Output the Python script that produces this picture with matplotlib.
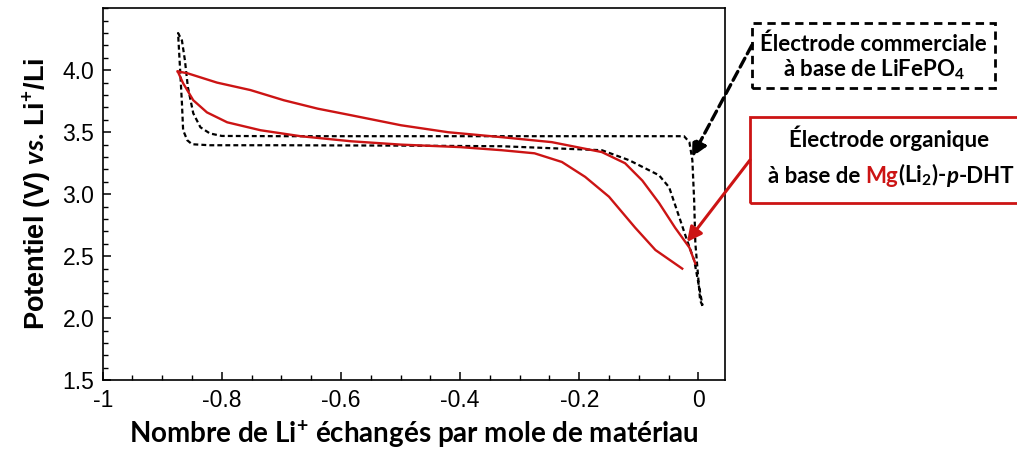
import matplotlib
matplotlib.use("Agg")
import matplotlib.pyplot as plt
from matplotlib.patches import Rectangle, FancyArrowPatch
from matplotlib.offsetbox import TextArea, HPacker, AnchoredOffsetbox
from matplotlib.ticker import MultipleLocator

plt.rcParams['mathtext.fontset'] = 'custom'
plt.rcParams['mathtext.rm'] = 'Lato:bold'
plt.rcParams['mathtext.it'] = 'Lato:bold:italic'
plt.rcParams['mathtext.bf'] = 'Lato:bold'

# LiFePO4 commercial electrode (black dashed)
lfp_x = [0.007, 0.003, -0.005, -0.007, -0.010, -0.015, -0.024, -0.10, -0.30, -0.50,
         -0.70, -0.80, -0.820, -0.836, -0.848, -0.857, -0.862, -0.867, -0.8735,
         -0.870, -0.867, -0.865, -0.858, -0.850, -0.820, -0.70, -0.50, -0.33,
         -0.162, -0.116, -0.066, -0.049, -0.032, -0.019, -0.007, 0.007]
lfp_y = [2.10, 2.145, 2.605, 2.95, 3.274, 3.42, 3.468, 3.468, 3.468, 3.468,
         3.468, 3.47, 3.49, 3.54, 3.653, 3.863, 4.08, 4.24, 4.30,
         4.00, 3.734, 3.516, 3.435, 3.403, 3.395, 3.395, 3.392, 3.387,
         3.355, 3.274, 3.153, 3.056, 2.815, 2.629, 2.468, 2.105]

# Mg(Li2)-p-DHT organic electrode (red)
mg_up_x = [-0.874, -0.858, -0.808, -0.752, -0.696, -0.639, -0.583, -0.499, -0.42,
           -0.33, -0.246, -0.162, -0.123, -0.094, -0.066, -0.039, -0.015, -0.005]
mg_up_y = [3.99, 3.976, 3.90, 3.84, 3.758, 3.69, 3.637, 3.556, 3.50,
           3.46, 3.42, 3.34, 3.25, 3.11, 2.93, 2.73, 2.57, 2.44]
mg_lo_x = [-0.874, -0.865, -0.848, -0.825, -0.791, -0.735, -0.668, -0.583, -0.499,
           -0.40, -0.33, -0.275, -0.229, -0.19, -0.15, -0.106, -0.072, -0.027]
mg_lo_y = [3.99, 3.895, 3.758, 3.66, 3.58, 3.516, 3.468, 3.427, 3.40,
           3.38, 3.355, 3.33, 3.26, 3.14, 2.98, 2.73, 2.55, 2.40]

x_ticks = [-1, -0.8, -0.6, -0.4, -0.2, 0]
x_ticklabels = ['-1', '-0.8', '-0.6', '-0.4', '-0.2', '0']
y_ticks = [1.5, 2.0, 2.5, 3.0, 3.5, 4.0]

RED = '#cc1414'

fig = plt.figure(figsize=(10.17, 4.57), dpi=100)
ax = fig.add_axes([0.101, 0.168, 0.612, 0.814])

ax.plot(lfp_x, lfp_y, color='black', lw=1.6, ls=(0, (2.2, 1.4)))
ax.plot(mg_up_x, mg_up_y, color=RED, lw=1.7)
ax.plot(mg_lo_x, mg_lo_y, color=RED, lw=1.7)

ax.set_xlim(-1, 0.045)
ax.set_ylim(1.5, 4.5)
ax.set_xticks(x_ticks)
ax.set_xticklabels(x_ticklabels)
ax.set_yticks(y_ticks)
ax.set_yticklabels([f'{v:.1f}' for v in y_ticks])
ax.xaxis.set_minor_locator(MultipleLocator(0.05))
ax.yaxis.set_minor_locator(MultipleLocator(0.1))
ax.tick_params(which='major', direction='in', length=6, width=1.1,
               labelsize=16.5, pad=6, top=False, right=False)
ax.tick_params(which='minor', direction='in', length=3.5, width=1.0,
               top=False, right=False)
for lab in ax.get_xticklabels() + ax.get_yticklabels():
    lab.set_family('Liberation Sans')
for s in ax.spines.values():
    s.set_linewidth(1.2)

ax.set_ylabel(r'Potentiel (V) $\mathit{vs.}\,$Li$^{+}$/Li',
              family='Liberation Sans', fontweight='bold', fontsize=19.5, labelpad=6)
ax.set_xlabel(r'Nombre de Li$^{+}$ échangés par mole de matériau',
              family='Lato', fontweight='bold', fontsize=20, labelpad=5)

# Annotation box 1 (dashed black)
fig.patches.append(Rectangle((0.7394, 0.8074), 0.239, 0.1422, transform=fig.transFigure,
                             fill=False, ec='black', lw=2.0, ls=(0, (3, 2))))
fig.text(0.859, 0.904, 'Électrode commerciale', family='Lato', fontweight='bold',
         fontsize=16, ha='center', va='center')
fig.text(0.859, 0.848, r'à base de LiFePO$_4$', family='Lato', fontweight='bold',
         fontsize=16, ha='center', va='center')

# Annotation box 2 (red)
fig.patches.append(Rectangle((0.7375, 0.556), 0.30, 0.188, transform=fig.transFigure,
                             fill=False, ec=RED, lw=2.0))
fig.text(0.874, 0.698, 'Électrode organique', family='Lato', fontweight='bold',
         fontsize=16, ha='center', va='center')
tp = dict(family='Lato', fontweight='bold', fontsize=16)
pieces = [
    TextArea('à base de ', textprops=dict(tp, color='black')),
    TextArea('Mg', textprops=dict(tp, color=RED)),
    TextArea(r'(Li$_2$)-', textprops=dict(tp, color='black')),
    TextArea('p', textprops=dict(tp, color='black', style='italic')),
    TextArea('-DHT', textprops=dict(tp, color='black')),
]
pack = HPacker(children=pieces, align='baseline', pad=0, sep=0)
anch = AnchoredOffsetbox(loc='center', child=pack, frameon=False, pad=0, borderpad=0,
                         bbox_to_anchor=(0.876, 0.617), bbox_transform=fig.transFigure)
fig.add_artist(anch)

# Arrows
arr1 = FancyArrowPatch((0.7394, 0.9015), (0.6804, 0.6565), transform=fig.transFigure,
                       arrowstyle='-|>', mutation_scale=22, lw=2.4, ls=(0, (3, 1.5)),
                       color='black', shrinkA=0, shrinkB=0)
fig.patches.append(arr1)
arr2 = FancyArrowPatch((0.7375, 0.650), (0.6755, 0.4705), transform=fig.transFigure,
                       arrowstyle='-|>', mutation_scale=22, lw=2.2,
                       color=RED, shrinkA=0, shrinkB=0)
fig.patches.append(arr2)

fig.savefig('out.png', dpi=100)
